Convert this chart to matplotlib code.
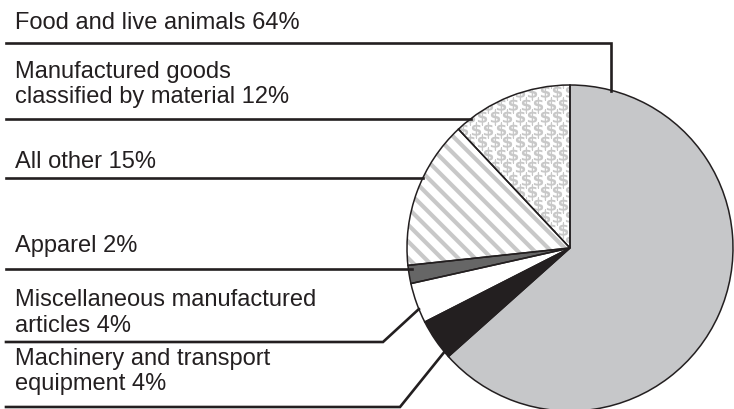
import numpy as np
import matplotlib
matplotlib.use("Agg")
import matplotlib.pyplot as plt
from matplotlib.patches import Wedge

plt.rcParams['font.family'] = ['Liberation Sans', 'DejaVu Sans']
plt.rcParams['hatch.linewidth'] = 3.0

# pie shares as drawn (clockwise from 12 o'clock)
categories = ["Food and live animals", "Machinery and transport equipment",
              "Miscellaneous manufactured articles", "Apparel",
              "All other", "Manufactured goods classified by material"]
shares = [63.4, 4.1, 4.0, 1.8, 14.7, 12.0]
colors = ["#c6c7c9", "#231f20", "#ffffff", "#666666", "#ffffff", "#ffffff"]

# label texts (printed percentages)
label_lines = [["Food and live animals 64%"],
               ["Machinery and transport", "equipment 4%"],
               ["Miscellaneous manufactured", "articles 4%"],
               ["Apparel 2%"],
               ["All other 15%"],
               ["Manufactured goods", "classified by material 12%"]]

W, H = 734, 409
dark = "#231f20"
pat = "#c8c8c8"

fig = plt.figure(figsize=(W / 100, H / 100), dpi=100)
ax = fig.add_axes([0, 0, 1, 1])

cx, cy, R = 570, H - 248, 163
wedges, _ = ax.pie(shares, colors=colors, startangle=90, counterclock=False,
                   center=(cx, cy), radius=R, wedgeprops=dict(linewidth=0))
ax.set_xlim(0, W)
ax.set_ylim(0, H)
ax.set_aspect('equal')
ax.axis('off')

# striped slice
w_other = wedges[4]
stripe = Wedge((cx, cy), R, w_other.theta1, w_other.theta2, facecolor='none',
               edgecolor=pat, hatch='\\\\', linewidth=0, zorder=2)
ax.add_patch(stripe)

# "$" pattern slice
w_man = wedges[5]
px, py = [], []
for j, yy in enumerate(np.arange(cy + 6, cy + R + 14, 12.5)):
    off = 6 if j % 2 else 0
    for xx in np.arange(cx - R + off, cx + 12, 12.5):
        px.append(xx)
        py.append(yy)
sc = ax.scatter(px, py, marker=r'$\mathbf{\$}$', s=120, color=pat,
                linewidths=0, zorder=2)
sc.set_clip_path(w_man)

# outlines
for w in wedges:
    ax.add_patch(Wedge((cx, cy), R, w.theta1, w.theta2, facecolor='none',
                       edgecolor=dark, linewidth=1.1, zorder=3))


def on_circle_x(py):
    dy = (H - py) - cy
    return cx - np.sqrt(R ** 2 - dy ** 2)


def circ_pt(ang):
    a = np.deg2rad(ang)
    return cx + R * np.cos(a), cy + R * np.sin(a)


lw = 1.9
x0 = 6
tx = 15

# Food
fx = 611
fy_end = cy + np.sqrt(R ** 2 - (fx - cx) ** 2)
ax.plot([x0, fx, fx], [H - 43, H - 43, fy_end - 1], color=dark, lw=lw,
        solid_joinstyle='miter', zorder=4)
# Manufactured goods
ax.plot([x0, on_circle_x(118.5)], [H - 118.5, H - 118.5], color=dark, lw=lw, zorder=4)
# All other
ax.plot([x0, on_circle_x(178)], [H - 178, H - 178], color=dark, lw=lw, zorder=4)
# Apparel
ax.plot([x0, on_circle_x(269) + 4], [H - 269, H - 269], color=dark, lw=lw, zorder=4)
# Miscellaneous
mx, my = circ_pt(202)
ax.plot([x0, 383, mx], [H - 342, H - 342, my], color=dark, lw=lw,
        solid_joinstyle='miter', zorder=4)
# Machinery
kx, ky = circ_pt(219.6)
ax.plot([x0, 400, kx], [H - 407, H - 407, ky], color=dark, lw=lw,
        solid_joinstyle='miter', zorder=4)

baselines = [[29], [365, 390], [306, 332], [252], [168], [78, 103]]
for lines, bls in zip(label_lines, baselines):
    for s, b in zip(lines, bls):
        ax.text(tx, H - b, s, fontsize=17, color=dark, ha='left', va='baseline')

fig.savefig("out.png", dpi=100)
